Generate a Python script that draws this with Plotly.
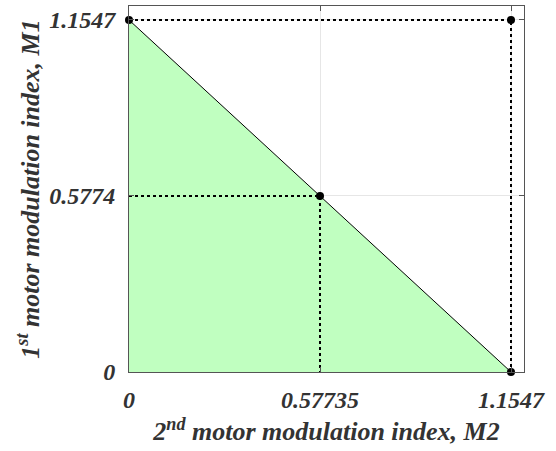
import plotly.graph_objects as go

# Data
m_max = 1.1547
m_mid_x = 0.57735
m_mid_y = 0.5774
x_tick_vals = [0, 0.57735, 1.1547]
x_tick_text = ["0", "0.57735", "1.1547"]
y_tick_vals = [0, 0.5774, 1.1547]
y_tick_text = ["0", "0.5774", "1.1547"]

boundary_x = [0, m_max]
boundary_y = [m_max, 0]
region_x = [0, 0, m_max, 0]
region_y = [0, m_max, 0, 0]
outer_dot_x = [0, m_max, m_max]
outer_dot_y = [m_max, m_max, 0]
mid_dot_x = [0, m_mid_x, m_mid_x]
mid_dot_y = [m_mid_y, m_mid_y, 0]
pts_x = [0, m_max, m_mid_x, m_max]
pts_y = [m_max, m_max, m_mid_y, 0]

font_family = "Liberation Serif, Times New Roman, serif"
txt_color = "#333333"

def bi(s):
    return "<b><i>" + s + "</i></b>"

fig = go.Figure()
fig.add_trace(go.Scatter(x=region_x, y=region_y, fill="toself", fillcolor="#c0ffc0",
                         line=dict(width=0), mode="lines", hoverinfo="skip"))
fig.add_trace(go.Scatter(x=boundary_x, y=boundary_y, mode="lines",
                         line=dict(color="black", width=1)))
fig.add_trace(go.Scatter(x=outer_dot_x, y=outer_dot_y, mode="lines",
                         line=dict(color="black", width=2, dash="dot"), cliponaxis=False))
fig.add_trace(go.Scatter(x=mid_dot_x, y=mid_dot_y, mode="lines",
                         line=dict(color="black", width=2, dash="dot"), cliponaxis=False))
fig.add_trace(go.Scatter(x=pts_x, y=pts_y, mode="markers",
                         marker=dict(color="black", size=8), cliponaxis=False))

tickfont = dict(family=font_family, size=24, color=txt_color)
titlefont = dict(family=font_family, size=26, color=txt_color)

fig.update_layout(
    width=556, height=451,
    margin=dict(l=129, r=32, t=6, b=79),
    plot_bgcolor="white", paper_bgcolor="white",
    showlegend=False,
    xaxis=dict(range=[0, 1.194], tickvals=x_tick_vals, ticktext=[bi(t) for t in x_tick_text],
               showgrid=True, gridcolor="#e6e6e6", gridwidth=1, zeroline=False,
               showline=True, linecolor="#555555", linewidth=1, mirror="allticks",
               ticks="inside", ticklen=5, tickcolor="#555555", tickfont=tickfont,
               ticklabelstandoff=6, automargin=False,
               title=dict(text=bi("2<sup>nd</sup> motor modulation index, M2"), font=titlefont, standoff=10)),
    yaxis=dict(range=[0, 1.2006], tickvals=y_tick_vals, ticktext=[bi(t) for t in y_tick_text],
               showgrid=True, gridcolor="#e6e6e6", gridwidth=1, zeroline=False,
               showline=True, linecolor="#555555", linewidth=1, mirror="allticks",
               ticks="inside", ticklen=5, tickcolor="#555555", tickfont=tickfont,
               ticklabelstandoff=8, automargin=False,
               title=dict(text=bi("1<sup>st</sup> motor modulation index, M1"), font=titlefont, standoff=2)),
)
fig.write_html("out.html", config={"displayModeBar": False},
               post_script="document.body.style.margin='0';")
